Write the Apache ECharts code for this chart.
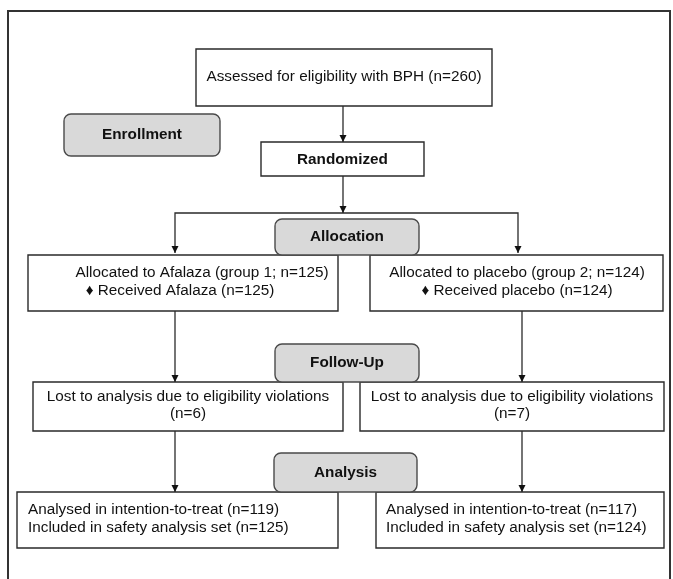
<!DOCTYPE html>
<html>
<head>
<meta charset="utf-8">
<script src="https://cdn.jsdelivr.net/npm/echarts@6/dist/echarts.min.js"></script>
<style>html,body{margin:0;padding:0;background:#fff}#c{width:673px;height:579px}</style>
</head>
<body>
<div id="c"></div>
<script>
// ---- data (texts and counts) ----
const stageLabels = ['Enrollment', 'Allocation', 'Follow-Up', 'Analysis'];
const assessedN = 260;
const groupNames = ['Afalaza', 'placebo'];
const allocatedN = [125, 124];
const receivedN = [125, 124];
const lostN = [6, 7];
const ittN = [119, 117];
const safetyN = [125, 124];

const assessedText = 'Assessed for eligibility with BPH (n=' + assessedN + ')';
const randomizedText = 'Randomized';
const allocText = [0, 1].map(i => 'Allocated to ' + groupNames[i] + ' (group ' + (i + 1) + '; n=' + allocatedN[i] + ')');
const recvText = [0, 1].map(i => '\u2666 Received ' + groupNames[i] + ' (n=' + receivedN[i] + ')');
const lostText = [0, 1].map(i => ['Lost to analysis due to eligibility violations', '(n=' + lostN[i] + ')']);
const analysisText = [0, 1].map(i => ['Analysed in intention-to-treat (n=' + ittN[i] + ')', 'Included in safety analysis set (n=' + safetyN[i] + ')']);

// ---- layout ----
const FONT = '"Liberation Sans", Arial, Helvetica, sans-serif';
const FS = '15.3px ';
const LINE = '#2a2a2a';
const els = [];

function box(x, y, w, h) {
  els.push({type: 'rect', shape: {x: x, y: y, width: w, height: h}, style: {fill: '#fff', stroke: LINE, lineWidth: 1.4}, z: 2});
}
function grey(x, y, w, h, label) {
  els.push({type: 'rect', shape: {x: x, y: y, width: w, height: h, r: 7}, style: {fill: '#d9d9d9', stroke: '#4a4a4a', lineWidth: 1.4}, z: 3});
  txt(x + w / 2, y + h / 2, label, 'center', true);
}
function txt(x, y, s, align, bold) {
  els.push({type: 'text', x: x, y: y, style: {text: s, font: (bold ? 'bold ' : '') + FS + FONT, fill: '#111', align: align || 'center', verticalAlign: 'middle'}, z: 5});
}
function line(pts) {
  els.push({type: 'polyline', shape: {points: pts}, style: {stroke: LINE, lineWidth: 1.3, fill: null}, z: 1});
}
function arrowDown(x, y) {
  els.push({type: 'polygon', shape: {points: [[x - 3.5, y - 7], [x + 3.5, y - 7], [x, y]]}, style: {fill: '#111'}, z: 4});
}

// outer frame
els.push({type: 'rect', shape: {x: 8, y: 11, width: 662, height: 590}, style: {fill: null, stroke: '#333', lineWidth: 2}, z: 0});

// top boxes
box(196, 49, 296, 57); txt(344, 77, assessedText);
grey(64, 114, 156, 42, stageLabels[0]);
box(261, 142, 163, 34); txt(342.5, 160, randomizedText, 'center', true);

// connectors
line([[343, 106], [343, 142]]); arrowDown(343, 142);
line([[343, 176], [343, 213]]); arrowDown(343, 213);
line([[175, 253], [175, 213], [518, 213], [518, 253]]);
arrowDown(175, 253); arrowDown(518, 253);

// allocation
box(28, 255, 310, 56); box(370, 255, 293, 56);
txt(202, 273, allocText[0]); txt(180, 291, recvText[0]);
txt(517, 273, allocText[1]); txt(517, 291, recvText[1]);
grey(275, 219, 144, 36, stageLabels[1]);

line([[175, 311], [175, 382]]); arrowDown(175, 382);
line([[522, 311], [522, 382]]); arrowDown(522, 382);

// follow-up
box(33, 382, 310, 49); box(360, 382, 304, 49);
txt(188, 397, lostText[0][0]); txt(188, 414, lostText[0][1]);
txt(512, 397, lostText[1][0]); txt(512, 414, lostText[1][1]);
grey(275, 344, 144, 38, stageLabels[2]);

line([[175, 431], [175, 492]]); arrowDown(175, 492);
line([[522, 431], [522, 492]]); arrowDown(522, 492);

// analysis
box(17, 492, 321, 56); box(376, 492, 288, 56);
txt(28, 510, analysisText[0][0], 'left'); txt(28, 528, analysisText[0][1], 'left');
txt(386, 510, analysisText[1][0], 'left'); txt(386, 528, analysisText[1][1], 'left');
grey(274, 453, 143, 39, stageLabels[3]);

const chart = echarts.init(document.getElementById('c'), null, {renderer: 'canvas'});
chart.setOption({animation: false, backgroundColor: '#fff', graphic: {elements: els}});
</script>
</body>
</html>
